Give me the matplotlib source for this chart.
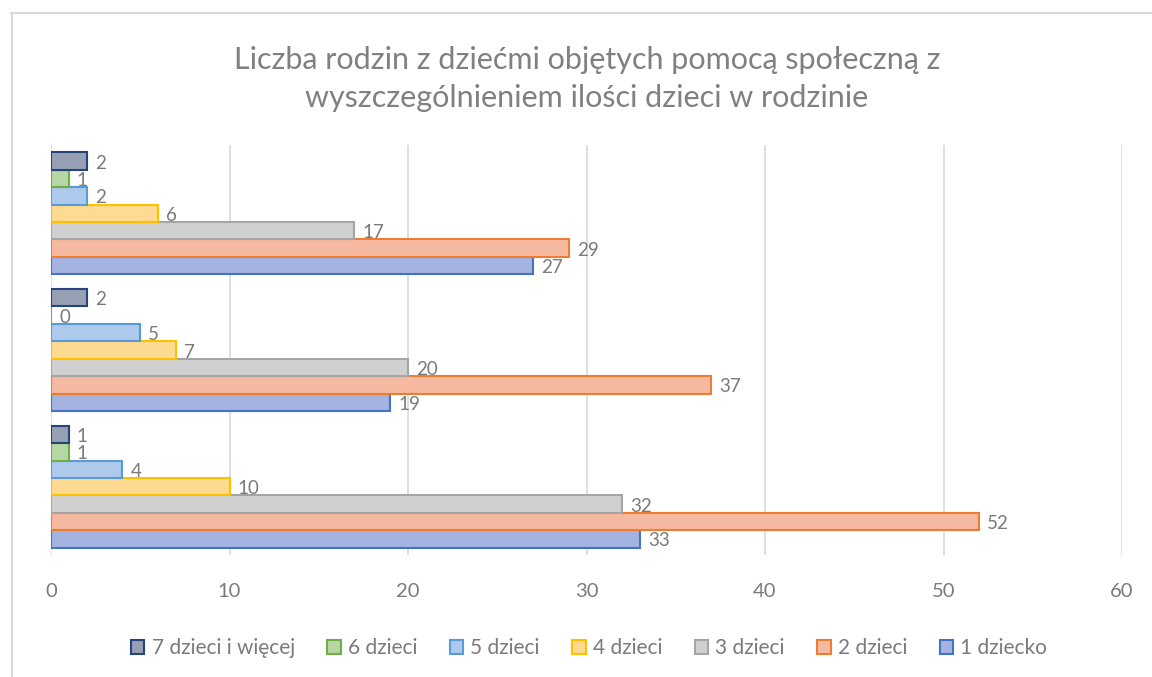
import matplotlib
matplotlib.use("Agg")
import matplotlib.pyplot as plt
import numpy as np
from matplotlib.patches import Patch
from matplotlib.lines import Line2D

plt.rcParams['font.family'] = ['Lato', 'DejaVu Sans']

title = "Liczba rodzin z dziećmi objętych pomocą społeczną z\nwyszczególnieniem ilości dzieci w rodzinie"
series_names = ["1 dziecko", "2 dzieci", "3 dzieci", "4 dzieci", "5 dzieci", "6 dzieci", "7 dzieci i więcej"]
# groups from bottom to top
s1 = [33, 19, 27]
s2 = [52, 37, 29]
s3 = [32, 20, 17]
s4 = [10, 7, 6]
s5 = [4, 5, 2]
s6 = [1, 0, 1]
s7 = [1, 2, 2]
values = [s1, s2, s3, s4, s5, s6, s7]
x_ticks = [0, 10, 20, 30, 40, 50, 60]

edge_colors = ["#4472C4", "#ED7D31", "#A5A5A5", "#FFC000", "#5B9BD5", "#70AD47", "#264478"]
fill_colors = ["#A4B3E0", "#F5B8A0", "#D0D0D0", "#FFDA91", "#ADC9EB", "#B6D7A4", "#979FB5"]
text_color = '#7A7A7A'

fig = plt.figure(figsize=(11.52, 6.77), dpi=100)
ax = fig.add_axes([51/1152, 1-555/677, (1122-51)/1152, (555-145)/677])

n = len(values)
h = 0.1275
ncat = len(s1)
ypos = np.arange(ncat)
for i, vals in enumerate(values):
    y = ypos - (n * h) / 2 + h * (i + 0.5)
    ax.barh(y, vals, height=h, color=fill_colors[i], edgecolor=edge_colors[i], linewidth=1.5, zorder=3)
    for yy, v in zip(y, vals):
        ax.text(v + 0.45, yy - 0.015, str(v), ha='left', va='center', fontsize=13.5, color=text_color, zorder=4)

ax.set_xlim(0, 60)
ax.set_ylim(-0.5, ncat - 0.5)
ax.set_xticks(x_ticks)
ax.set_xticklabels([str(t) for t in x_ticks], fontsize=14.5, color=text_color)
ax.set_yticks([])
ax.tick_params(axis='x', length=0, pad=20)
ax.grid(axis='x', color='#D9D9D9', linewidth=1.2, zorder=0)
for sp in ax.spines.values():
    sp.set_visible(False)

fig.text(587/1152, 1-79/677, title, ha='center', va='center', fontsize=22, color='#808080',
         linespacing=1.42)

handles = [Patch(facecolor=fill_colors[i], edgecolor=edge_colors[i], linewidth=1.5) for i in range(n)][::-1]
labels = series_names[::-1]
fig.legend(handles, labels, loc='center', bbox_to_anchor=(589/1152, 1-648/677), ncol=7, frameon=False,
           fontsize=15, handlelength=0.65, handleheight=0.65, handletextpad=0.35, columnspacing=1.55,
           labelcolor=text_color)

# chart border (top and left visible)
fig.add_artist(Line2D([11/1152, 1], [1-12.5/677, 1-12.5/677], color='#D9D9D9', linewidth=1.5, transform=fig.transFigure))
fig.add_artist(Line2D([11.5/1152, 11.5/1152], [0, 1-12.5/677], color='#D9D9D9', linewidth=1.5, transform=fig.transFigure))

fig.savefig("out.png", dpi=100)
